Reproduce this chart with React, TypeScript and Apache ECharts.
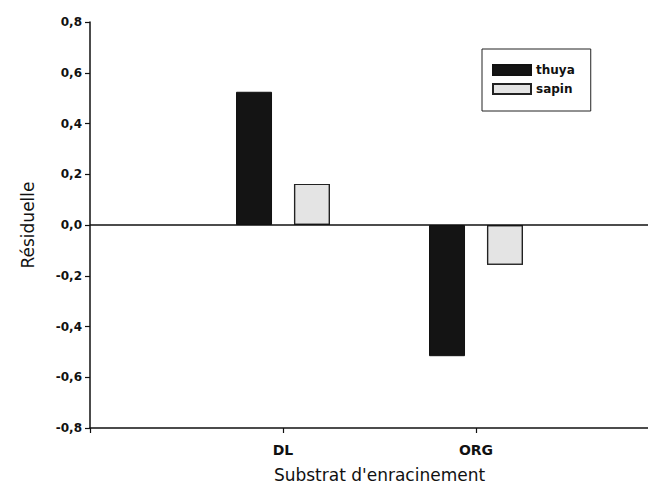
import React, { useEffect, useRef } from "react";
import * as echarts from "echarts";

const categories = ["", "DL", "ORG", ""];
const thuya = [null, 0.525, -0.517, null];
const sapin = [null, 0.162, -0.157, null];
const seriesNames = ["thuya", "sapin"];
const yTicks = { min: -0.8, max: 0.8, interval: 0.2 };

const FONT = "DejaVu Sans";

export default function App() {
  const ref = useRef<HTMLDivElement>(null);
  useEffect(() => {
    document.body.style.margin = "0";
    document.body.style.overflow = "hidden";
    if (!ref.current) return;
    const chart = echarts.init(ref.current, undefined, { renderer: "svg" });
    chart.setOption({
      animation: false,
      backgroundColor: "#ffffff",
      textStyle: { fontFamily: FONT, color: "#111" },
      grid: { left: 90, right: 11, top: 22, bottom: 67 },
      legend: {
        data: seriesNames.map((n) => ({ name: n, icon: "rect" })),
        orient: "vertical",
        left: 482,
        top: 49,
        padding: [14, 16, 15, 10],
        itemWidth: 38,
        itemHeight: 10,
        itemGap: 5,
        borderColor: "#222",
        borderWidth: 1,
        textStyle: { fontFamily: FONT, fontSize: 12, fontWeight: "bold", color: "#111", lineHeight: 14 },
      },
      xAxis: {
        type: "category",
        data: categories,
        boundaryGap: false,
        name: "Substrat d'enracinement",
        nameLocation: "middle",
        nameGap: 38,
        nameTextStyle: { fontFamily: FONT, fontSize: 17, color: "#111" },
        axisLine: { onZero: false, lineStyle: { color: "#111", width: 1.5 } },
        axisTick: { show: true, length: 5, lineStyle: { color: "#111", width: 1.2 } },
        axisLabel: { interval: 0, margin: 15, fontFamily: FONT, fontSize: 14, fontWeight: "bold", color: "#111" },
        splitLine: { show: false },
      },
      yAxis: {
        type: "value",
        min: yTicks.min,
        max: yTicks.max,
        interval: yTicks.interval,
        name: "Résiduelle",
        nameLocation: "middle",
        nameGap: 54,
        nameTextStyle: { fontFamily: FONT, fontSize: 17, color: "#111" },
        axisLine: { show: true, lineStyle: { color: "#111", width: 1.5 } },
        axisTick: { show: true, length: 5, lineStyle: { color: "#111", width: 1.2 } },
        axisLabel: {
          margin: 8,
          fontFamily: FONT,
          fontSize: 12,
          fontWeight: "bold",
          color: "#111",
          formatter: (v: number) => v.toFixed(1).replace(".", ","),
        },
        splitLine: { show: false },
      },
      series: [
        {
          name: seriesNames[0],
          type: "bar",
          data: thuya,
          barWidth: 36,
          barGap: "61%",
          itemStyle: { color: "#141414", borderColor: "#111", borderWidth: 1 },
        },
        {
          name: seriesNames[1],
          type: "bar",
          data: sapin,
          barWidth: 36,
          itemStyle: {
            color: "#e4e4e4",
            borderColor: "#222",
            borderWidth: 1.2,
            decal: {
              symbol: "circle",
              symbolSize: 0.6,
              color: "rgba(0,0,0,0.35)",
              dashArrayX: [1, 2],
              dashArrayY: [1, 2],
            },
          },
          markLine: {
            silent: true,
            symbol: ["none", "none"],
            label: { show: false },
            lineStyle: { color: "#111", width: 1.5, type: "solid" },
            data: [{ yAxis: 0 }],
          },
        },
      ],
    });
    return () => chart.dispose();
  }, []);
  return <div ref={ref} style={{ width: 680, height: 495 }} />;
}
